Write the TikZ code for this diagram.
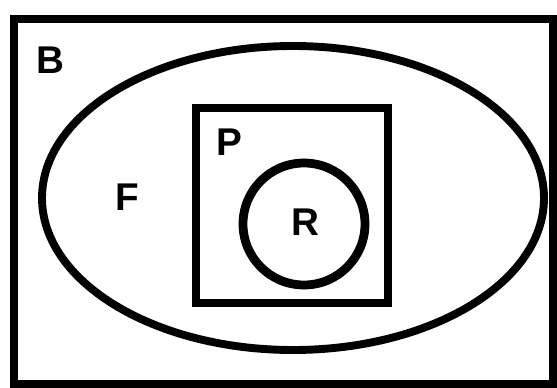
\documentclass[tikz,border=0pt]{standalone}
\usepackage{fontspec}
\setmainfont{Liberation Sans}
\begin{document}
\begin{tikzpicture}[x=0.02cm,y=-0.02cm,every node/.style={font=\bfseries\fontsize{22}{26}\selectfont},
  set/.style={draw=black,line width=4.5pt}]
  \useasboundingbox (0,0) rectangle (557,388);
  \draw[set] (14,19) rectangle (553,384);
  \draw[set] (293,198) ellipse [x radius=251,y radius=152];
  \draw[set] (196,108) rectangle (388,303);
  \draw[set,line width=5pt] (304,224) circle [radius=61];
  \node (b) at (50,60) {B};
  \node (f) at (127,197) {F};
  \node (p) at (229,142) {P};
  \node (r) at (305,222) {R};
\end{tikzpicture}
\end{document}
